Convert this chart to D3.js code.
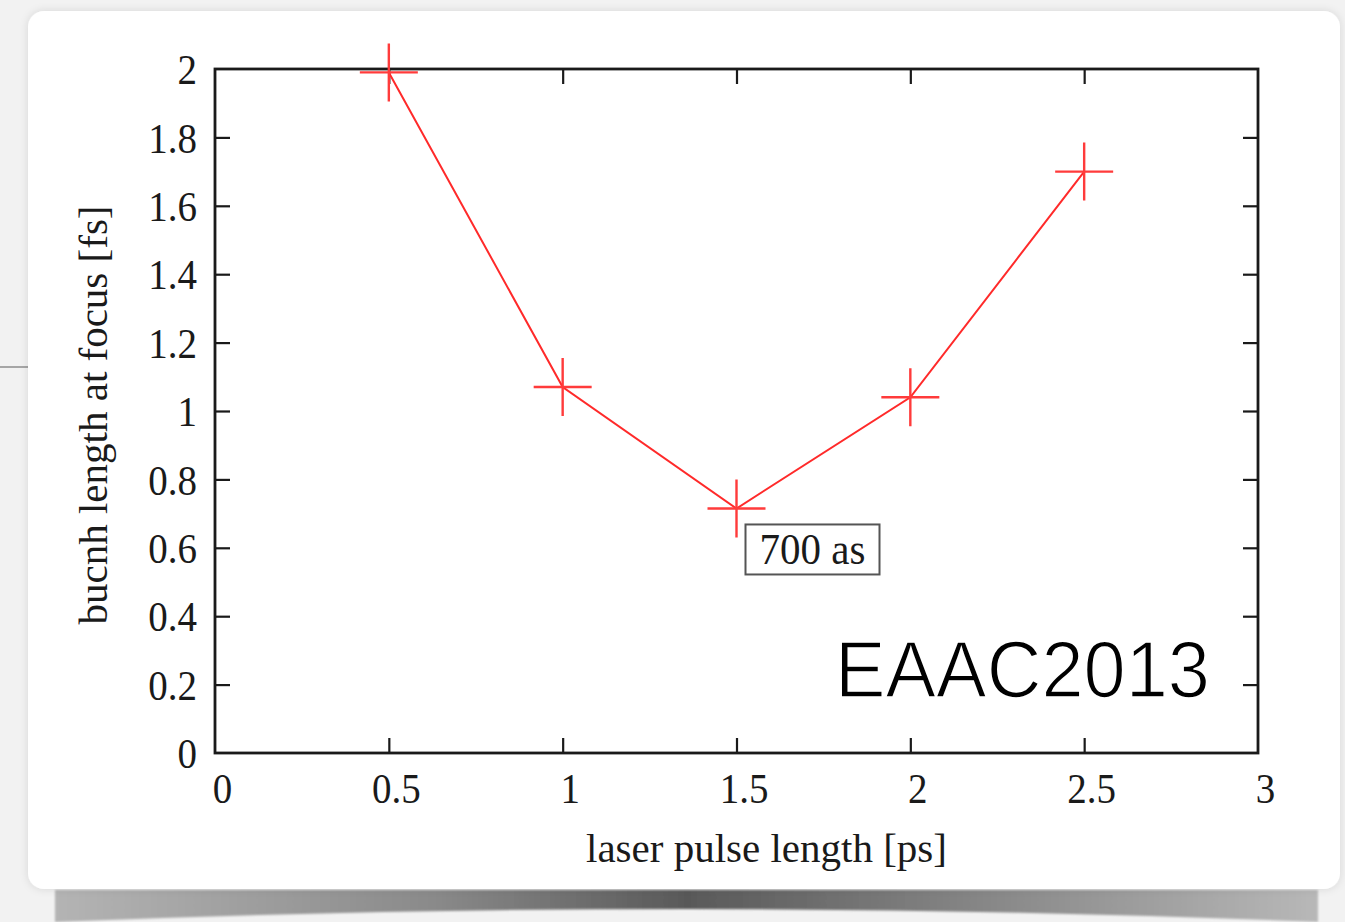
<!DOCTYPE html>
<html>
<head>
<meta charset="utf-8">
<script src="https://cdn.jsdelivr.net/npm/d3@7"></script>
<style>
  html, body { margin: 0; padding: 0; background: #f2f2f2; }
  svg { display: block; }
</style>
</head>
<body>
<svg id="chart" width="1345" height="922"></svg>
<script>
// Bunch length at focus versus laser pulse length
const pulseLength = [0.5, 1, 1.5, 2, 2.5];          // ps
const bunchLength = [1.99, 1.07, 0.715, 1.04, 1.70]; // fs
const xTicks = [0, 0.5, 1, 1.5, 2, 2.5, 3];
const yTicks = [0, 0.2, 0.4, 0.6, 0.8, 1, 1.2, 1.4, 1.6, 1.8, 2];
const xTitle = "laser pulse length [ps]";
const yTitle = "bucnh length at focus [fs]";
const minLabel = "700 as";
const stamp = "EAAC2013";

const W = 1345, H = 922;
const svg = d3.select("#chart");
const defs = svg.append("defs");

// page background and a curled-paper card
svg.append("rect").attr("width", W).attr("height", H).attr("fill", "#f2f2f2");

const shGrad = defs.append("linearGradient").attr("id", "curl").attr("x1", "0").attr("x2", "1");
[[0, "#b4b4b4"], [0.3, "#8a8a8a"], [0.5, "#595959"], [0.7, "#808080"], [1, "#b8b8b8"]]
  .forEach(([o, c]) => shGrad.append("stop").attr("offset", o).attr("stop-color", c));
defs.append("filter").attr("id", "soft").append("feGaussianBlur").attr("stdDeviation", 1.2);
defs.append("filter").attr("id", "cardShadow")
  .attr("x", "-5%").attr("y", "-5%").attr("width", "110%").attr("height", "110%")
  .append("feDropShadow").attr("dx", 0).attr("dy", 0).attr("stdDeviation", 4)
  .attr("flood-color", "#000").attr("flood-opacity", 0.12);

svg.append("path")
  .attr("d", "M55,890 L1318,890 L1318,922 Q686,896 55,922 Z")
  .attr("fill", "url(#curl)")
  .attr("filter", "url(#soft)");

svg.append("line").attr("x1", 0).attr("x2", 30).attr("y1", 367).attr("y2", 367)
  .attr("stroke", "#8c8c8c").attr("stroke-width", 1.5);

svg.append("rect")
  .attr("x", 28).attr("y", 11).attr("width", 1312).attr("height", 878).attr("rx", 16)
  .attr("fill", "#ffffff").attr("filter", "url(#cardShadow)");

// plot frame
const m = { left: 215, right: 1258, top: 69, bottom: 753 };
const x = d3.scaleLinear().domain([0, 3]).range([m.left, m.right]);
const y = d3.scaleLinear().domain([0, 2]).range([m.bottom, m.top]);

const serif = "'Liberation Serif', 'Times New Roman', serif";
const tickFont = 39, tickStretch = 1.1;
const titleFont = 41;
const ink = "#1a1a1a";

function styleAxis(g, labels) {
  g.select(".domain").remove();
  g.selectAll(".tick line").attr("stroke", ink).attr("stroke-width", 2.2);
  if (!labels) g.selectAll(".tick text").remove();
  else g.selectAll(".tick text").attr("font-family", serif).attr("font-size", tickFont).attr("fill", ink);
}

// bottom axis with labels (ticks pointing inward)
const gx = svg.append("g").attr("transform", `translate(0,${m.bottom})`)
  .call(d3.axisBottom(x).tickValues(xTicks).tickSize(-15).tickPadding(0).tickFormat(d3.format("")));
styleAxis(gx, true);
gx.selectAll(".tick text").attr("y", 0).attr("dy", null)
  .attr("dominant-baseline", "central")
  .attr("transform", `translate(7,35) scale(1,${tickStretch})`);
gx.selectAll(".tick").filter(d => d === 0 || d === 3).select("line").remove();

// top mirror ticks
const gxt = svg.append("g").attr("transform", `translate(0,${m.top})`)
  .call(d3.axisTop(x).tickValues(xTicks).tickSize(-15));
styleAxis(gxt, false);
gxt.selectAll(".tick").filter(d => d === 0 || d === 3).select("line").remove();

// left axis with labels
const gy = svg.append("g").attr("transform", `translate(${m.left},0)`)
  .call(d3.axisLeft(y).tickValues(yTicks).tickSize(-15).tickPadding(0).tickFormat(d3.format("")));
styleAxis(gy, true);
gy.selectAll(".tick text").attr("x", 0).attr("dy", null)
  .attr("dominant-baseline", "central")
  .attr("text-anchor", "end")
  .attr("transform", `translate(-18,0) scale(1,${tickStretch})`);
gy.selectAll(".tick").filter(d => d === 0 || d === 2).select("line").remove();

// right mirror ticks
const gyr = svg.append("g").attr("transform", `translate(${m.right},0)`)
  .call(d3.axisRight(y).tickValues(yTicks).tickSize(-15));
styleAxis(gyr, false);
gyr.selectAll(".tick").filter(d => d === 0 || d === 2).select("line").remove();

// frame border
svg.append("rect")
  .attr("x", m.left).attr("y", m.top)
  .attr("width", m.right - m.left).attr("height", m.bottom - m.top)
  .attr("fill", "none").attr("stroke", ink).attr("stroke-width", 2.8);

// axis titles
svg.append("text")
  .attr("transform", `translate(${x(1.5) + 30},862)`)
  .attr("text-anchor", "middle")
  .attr("font-family", serif).attr("font-size", titleFont).attr("fill", ink)
  .text(xTitle);

svg.append("text")
  .attr("transform", `translate(107,${(m.top + m.bottom) / 2 + 4}) rotate(-90)`)
  .attr("text-anchor", "middle")
  .attr("font-family", serif).attr("font-size", titleFont).attr("fill", ink)
  .text(yTitle);

// data line and cross markers
const pts = pulseLength.map((v, i) => [v, bunchLength[i]]);
svg.append("path")
  .datum(pts)
  .attr("d", d3.line().x(d => x(d[0])).y(d => y(d[1])))
  .attr("fill", "none").attr("stroke", "#ff2a2a").attr("stroke-width", 2);

const crossHalf = 29;
svg.append("g").selectAll("path").data(pts).join("path")
  .attr("d", d => {
    const cx = x(d[0]), cy = y(d[1]);
    return `M${cx - crossHalf},${cy}H${cx + crossHalf}M${cx},${cy - crossHalf}V${cy + crossHalf}`;
  })
  .attr("fill", "none").attr("stroke", "#ff3b3b").attr("stroke-width", 2.4);

// label at the minimum
const minIdx = d3.minIndex(bunchLength);
const lx = x(pulseLength[minIdx]) + 9, ly = y(bunchLength[minIdx]) + 16;
svg.append("rect")
  .attr("x", lx).attr("y", ly).attr("width", 134).attr("height", 50)
  .attr("fill", "#fff").attr("stroke", "#555").attr("stroke-width", 2);
svg.append("text")
  .attr("transform", `translate(${lx + 67},${ly + 25}) scale(1,1.07)`)
  .attr("text-anchor", "middle").attr("dominant-baseline", "central")
  .attr("font-family", serif).attr("font-size", titleFont).attr("fill", ink)
  .text(minLabel);

// conference stamp, strokes thinned with a white outline
svg.append("text")
  .attr("x", 835).attr("y", 697)
  .attr("font-family", "'Liberation Sans', Arial, sans-serif")
  .attr("font-size", 79).attr("fill", "#000")
  .attr("stroke", "#fff").attr("stroke-width", 1.6)
  .attr("textLength", 375).attr("lengthAdjust", "spacingAndGlyphs")
  .text(stamp);
</script>
</body>
</html>
